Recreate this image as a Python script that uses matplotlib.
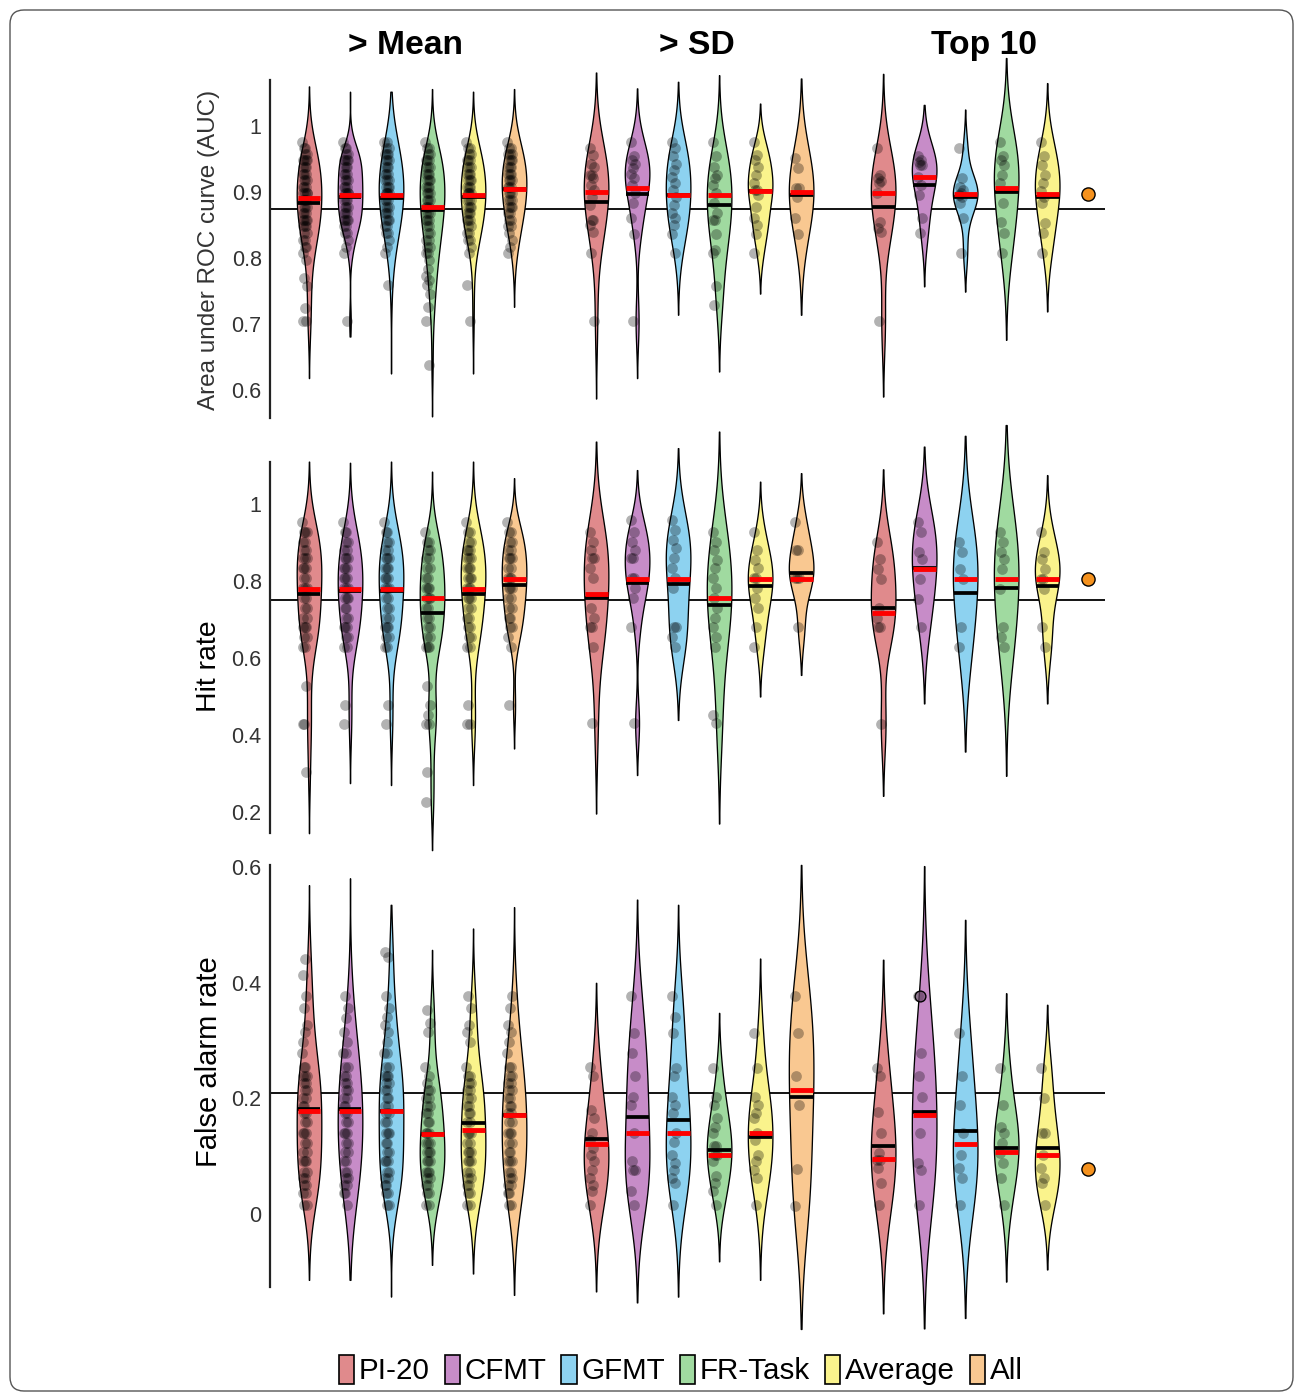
import numpy as np
import matplotlib
matplotlib.use('Agg')
import matplotlib.pyplot as plt
from matplotlib.patches import FancyBboxPatch, Patch
from matplotlib.transforms import IdentityTransform

plt.rcParams['font.family'] = ['Liberation Sans', 'DejaVu Sans']

# ---------------- data ----------------
tests = ['PI-20', 'CFMT', 'GFMT', 'FR-Task', 'Average', 'All']
groups = ['> Mean', '> SD', 'Top 10']
colors = ['#E08A8C', '#C78CC8', '#8DD2F0', '#A0DAA0', '#FAF38C', '#F9C891']

# AUC panel
auc_levels = [0.976, 0.966, 0.957, 0.948, 0.938, 0.928, 0.918, 0.908, 0.898, 0.888,
              0.878, 0.868, 0.858, 0.848, 0.838, 0.828, 0.817, 0.807, 0.797]
auc_mean_counts = [
    [1, 2, 2, 4, 3, 3, 3, 3, 4, 3, 3, 3, 4, 3, 2, 2, 2, 1, 1],
    [1, 2, 2, 4, 3, 3, 3, 3, 4, 3, 3, 3, 4, 2, 2, 1, 1, 1, 0],
    [2, 2, 3, 3, 3, 3, 3, 3, 4, 3, 3, 3, 3, 2, 2, 1, 1, 1, 0],
    [1, 2, 2, 3, 3, 3, 3, 3, 3, 3, 3, 3, 3, 2, 2, 2, 2, 2, 1],
    [1, 2, 2, 3, 3, 3, 3, 3, 4, 3, 3, 3, 3, 2, 2, 2, 1, 1, 0],
    [1, 2, 3, 3, 3, 3, 3, 3, 3, 3, 3, 2, 2, 2, 1, 1, 1, 1, 0],
]
auc_mean_extra = [[0.769, 0.757, 0.724, 0.704, 0.704], [0.704], [0.759],
                  [0.784, 0.772, 0.767, 0.759, 0.746, 0.726, 0.704, 0.638],
                  [0.759, 0.704], []]
auc_sd = [
    [0.966, 0.956, 0.943, 0.938, 0.926, 0.926, 0.921, 0.911, 0.903, 0.893, 0.880, 0.858, 0.858, 0.850, 0.840, 0.807, 0.704],
    [0.976, 0.954, 0.948, 0.943, 0.936, 0.928, 0.921, 0.911, 0.898, 0.883, 0.860, 0.837, 0.704],
    [0.976, 0.966, 0.954, 0.943, 0.933, 0.923, 0.913, 0.903, 0.893, 0.880, 0.868, 0.860, 0.850, 0.837, 0.807],
    [0.976, 0.954, 0.938, 0.926, 0.921, 0.911, 0.898, 0.883, 0.868, 0.858, 0.858, 0.837, 0.812, 0.807, 0.757, 0.729],
    [0.976, 0.956, 0.948, 0.938, 0.926, 0.913, 0.903, 0.903, 0.895, 0.878, 0.860, 0.850, 0.837, 0.807],
    [0.951, 0.936, 0.906, 0.906, 0.893, 0.860, 0.837],
]
auc_top10 = [
    [0.966, 0.926, 0.921, 0.916, 0.913, 0.898, 0.855, 0.845, 0.840, 0.704],
    [0.954, 0.949, 0.945, 0.941, 0.941, 0.923, 0.911, 0.896, 0.860, 0.838],
    [0.966, 0.921, 0.908, 0.903, 0.898, 0.896, 0.893, 0.883, 0.860, 0.807],
    [0.976, 0.954, 0.949, 0.941, 0.926, 0.913, 0.883, 0.855, 0.838, 0.807],
    [0.976, 0.954, 0.941, 0.926, 0.913, 0.901, 0.893, 0.883, 0.853, 0.838, 0.807],
]
# density support (lower, upper) of each violin, read from the tails
auc_support = [
    [(0.618, 1.060), (0.681, 1.052), (0.625, 1.052), (0.560, 1.056), (0.625, 1.052), (0.726, 1.056)],
    [(0.587, 1.081), (0.618, 1.057), (0.714, 1.067), (0.628, 1.077), (0.746, 1.034), (0.714, 1.072)],
    [(0.590, 1.079), (0.757, 1.032), (0.749, 1.025), (0.676, 1.103), (0.719, 1.065)],
]
auc_red = [[0.891, 0.895, 0.896, 0.878, 0.896, 0.904],
           [0.900, 0.906, 0.896, 0.896, 0.901, 0.900],
           [0.898, 0.922, 0.897, 0.906, 0.897]]
auc_black = [[0.883, 0.893, 0.891, 0.872, 0.892, 0.904],
             [0.885, 0.897, 0.896, 0.880, 0.901, 0.896],
             [0.877, 0.911, 0.893, 0.900, 0.893]]
auc_top10_all = 0.897
auc_ref = 0.874

# Hit rate panel
hit_levels = [0.954, 0.928, 0.902, 0.881, 0.859, 0.833, 0.807, 0.781, 0.755, 0.729,
              0.703, 0.681, 0.655, 0.629]
hit_mean_counts = [
    [1, 3, 2, 2, 3, 3, 2, 3, 2, 2, 2, 3, 2, 2],
    [1, 2, 2, 2, 3, 3, 3, 3, 3, 2, 2, 3, 2, 2],
    [1, 2, 2, 2, 3, 3, 3, 3, 2, 2, 2, 3, 2, 2],
    [0, 1, 2, 2, 2, 2, 2, 3, 3, 2, 2, 2, 2, 3],
    [1, 2, 2, 3, 3, 3, 3, 3, 3, 2, 2, 2, 2, 2],
    [1, 2, 2, 2, 3, 2, 3, 3, 2, 2, 2, 2, 1, 1],
]
hit_mean_extra = [[0.526, 0.429, 0.429, 0.305], [0.478, 0.429], [0.478, 0.429],
                  [0.526, 0.478, 0.452, 0.429, 0.429, 0.305, 0.227],
                  [0.478, 0.429, 0.429], [0.478]]
hit_sd = [
    [0.928, 0.902, 0.880, 0.859, 0.859, 0.833, 0.807, 0.729, 0.703, 0.681, 0.681, 0.629, 0.430],
    [0.958, 0.928, 0.902, 0.880, 0.859, 0.859, 0.807, 0.807, 0.781, 0.755, 0.681, 0.430],
    [0.958, 0.932, 0.906, 0.885, 0.859, 0.833, 0.807, 0.781, 0.681, 0.681, 0.655, 0.629],
    [0.928, 0.902, 0.880, 0.855, 0.833, 0.807, 0.781, 0.755, 0.729, 0.703, 0.681, 0.655, 0.629, 0.452, 0.430],
    [0.928, 0.880, 0.855, 0.833, 0.807, 0.807, 0.781, 0.755, 0.729, 0.681, 0.629],
    [0.954, 0.880, 0.880, 0.807, 0.807, 0.807, 0.681],
]
hit_top10 = [
    [0.902, 0.856, 0.830, 0.804, 0.729, 0.703, 0.680, 0.680, 0.429],
    [0.954, 0.928, 0.876, 0.856, 0.804, 0.752, 0.680],
    [0.902, 0.876, 0.830, 0.804, 0.680, 0.628],
    [0.928, 0.902, 0.876, 0.856, 0.830, 0.778, 0.680, 0.654, 0.628],
    [0.928, 0.876, 0.856, 0.830, 0.804, 0.804, 0.778, 0.680, 0.628],
]
hit_support = [
    [(0.145, 1.110), (0.275, 1.107), (0.270, 1.110), (0.101, 1.084), (0.270, 1.110), (0.365, 1.067)],
    [(0.196, 1.162), (0.296, 1.088), (0.439, 1.145), (0.170, 1.188), (0.500, 1.058), (0.556, 1.080)],
    [(0.242, 1.090), (0.482, 1.149), (0.357, 1.177), (0.294, 1.205), (0.482, 1.075)],
]
hit_red = [[0.778, 0.778, 0.778, 0.755, 0.778, 0.804],
           [0.766, 0.804, 0.804, 0.755, 0.804, 0.804],
           [0.718, 0.830, 0.804, 0.804, 0.804]]
hit_black = [[0.765, 0.775, 0.773, 0.718, 0.765, 0.790],
             [0.755, 0.796, 0.792, 0.738, 0.787, 0.822],
             [0.729, 0.835, 0.770, 0.781, 0.787]]
hit_top10_all = 0.804
hit_ref = 0.751

# False alarm panel
fa_levels = [0.278, 0.255, 0.238, 0.226, 0.215, 0.200, 0.186, 0.174, 0.160, 0.140,
             0.122, 0.108, 0.091, 0.073, 0.062, 0.050, 0.036, 0.016]
fa_mean_counts = [
    [1, 2, 3, 2, 2, 2, 2, 2, 2, 3, 2, 2, 3, 2, 2, 2, 2, 2],
    [2, 2, 2, 2, 2, 2, 2, 2, 2, 3, 2, 2, 2, 2, 2, 2, 2, 1],
    [2, 2, 3, 2, 2, 2, 2, 2, 2, 3, 2, 2, 3, 2, 2, 2, 2, 2],
    [0, 1, 1, 1, 2, 2, 2, 2, 2, 3, 3, 3, 3, 3, 2, 2, 2, 2],
    [0, 1, 2, 2, 2, 2, 2, 2, 2, 3, 2, 3, 3, 2, 2, 2, 2, 2],
    [1, 2, 2, 2, 2, 2, 2, 2, 2, 3, 2, 2, 3, 2, 2, 2, 2, 2],
]
fa_mean_extra = [[0.442, 0.413, 0.377, 0.356, 0.327, 0.315, 0.298],
                 [0.377, 0.356, 0.339, 0.315, 0.298],
                 [0.454, 0.445, 0.377, 0.356, 0.341, 0.327, 0.315, 0.298],
                 [0.353, 0.330, 0.315],
                 [0.377, 0.356, 0.327, 0.315, 0.298],
                 [0.377, 0.356, 0.327, 0.315, 0.298]]
fa_sd = [
    [0.255, 0.238, 0.180, 0.166, 0.140, 0.128, 0.114, 0.102, 0.091, 0.076, 0.062, 0.050, 0.039, 0.016],
    [0.377, 0.314, 0.278, 0.239, 0.203, 0.189, 0.140, 0.091, 0.076, 0.076, 0.039, 0.016],
    [0.377, 0.341, 0.314, 0.252, 0.239, 0.203, 0.189, 0.174, 0.140, 0.125, 0.102, 0.088, 0.076, 0.062, 0.053, 0.016],
    [0.252, 0.203, 0.189, 0.166, 0.151, 0.140, 0.117, 0.117, 0.102, 0.102, 0.091, 0.065, 0.053, 0.039, 0.016],
    [0.314, 0.252, 0.203, 0.189, 0.174, 0.166, 0.140, 0.128, 0.102, 0.091, 0.076, 0.062, 0.016],
    [0.377, 0.314, 0.239, 0.189, 0.077, 0.014],
]
fa_top10 = [
    [0.252, 0.238, 0.177, 0.140, 0.105, 0.093, 0.093, 0.079, 0.053, 0.016],
    [0.377, 0.278, 0.238, 0.203, 0.140, 0.088, 0.076, 0.016],
    [0.314, 0.238, 0.189, 0.140, 0.102, 0.079, 0.062, 0.016],
    [0.252, 0.189, 0.151, 0.140, 0.122, 0.105, 0.088, 0.062, 0.016],
    [0.252, 0.200, 0.140, 0.140, 0.102, 0.079, 0.062, 0.053, 0.016],
]
fa_support = [
    [(-0.114, 0.569), (-0.114, 0.581), (-0.143, 0.535), (-0.088, 0.457), (-0.103, 0.494), (-0.140, 0.531)],
    [(-0.134, 0.400), (-0.153, 0.544), (-0.143, 0.535), (-0.082, 0.348), (-0.114, 0.442), (-0.199, 0.604)],
    [(-0.172, 0.440), (-0.198, 0.602), (-0.180, 0.509), (-0.117, 0.382), (-0.096, 0.362)],
]
fa_red = [[0.178, 0.178, 0.178, 0.138, 0.146, 0.171],
          [0.121, 0.140, 0.140, 0.102, 0.140, 0.215],
          [0.095, 0.171, 0.121, 0.108, 0.102]]
fa_black = [[0.182, 0.182, 0.178, 0.138, 0.158, 0.171],
            [0.130, 0.168, 0.163, 0.110, 0.134, 0.202],
            [0.117, 0.177, 0.143, 0.114, 0.115]]
fa_top10_all = 0.077
fa_ref = 0.21
fa_highlight = 0.377  # outlined point, Top 10 / CFMT

# ---------------- figure ----------------
W, H = 1295, 1393
fig = plt.figure(figsize=(W / 100, H / 100), dpi=100)

group_offsets = [0, 7, 14]


def ax_rect(top_px, bot_px, left_px=270, right_px=1105):
    return [left_px / W, 1 - bot_px / H, (right_px - left_px) / W, (bot_px - top_px) / H]


def draw_violin(ax, pos, vals, support, color):
    v = np.asarray(vals, float)
    n = v.size
    lo, hi = support
    bw = ((v.min() - lo) + (hi - v.max())) / 4.6
    if bw <= 0:
        bw = 0.02
    y = np.linspace(lo, hi, 400)
    d = np.exp(-0.5 * ((y[:, None] - v[None, :]) / bw) ** 2).sum(1)
    d = d / d.max() * 0.3
    ax.fill_betweenx(y, pos - d, pos + d, facecolor=color, edgecolor='black',
                     lw=0.95, zorder=2, clip_on=False)
    k = np.arange(n)
    jit = ((k * 0.6180339) % 1.0 - 0.5) * 0.12
    ax.scatter(pos - 0.1 + jit, v, s=60, color='black', alpha=0.3, lw=0,
               zorder=3, clip_on=False)


def draw_lines(ax, pos, red, black):
    ax.plot([pos - 0.28, pos + 0.28], [black, black], color='black', lw=2.7,
            solid_capstyle='butt', zorder=4, clip_on=False)
    ax.plot([pos - 0.28, pos + 0.28], [red, red], color='#FF0000', lw=3.5,
            solid_capstyle='butt', zorder=5, clip_on=False)


def panel(rect, ylim, ticks, ticklabels, levels, mean_counts, mean_extra,
          sd, top10, support, red, black, all_dot, ref):
    ax = fig.add_axes(rect)
    ax.set_xlim(-0.951, 19.41)
    ax.set_ylim(*ylim)
    ax.axhline(ref, color='black', lw=1.3, zorder=1)
    # > Mean group
    for i in range(6):
        vals = list(np.repeat(levels, mean_counts[i])) + list(mean_extra[i])
        pos = group_offsets[0] + i
        draw_violin(ax, pos, vals, support[0][i], colors[i])
        draw_lines(ax, pos, red[0][i], black[0][i])
    # > SD group
    for i in range(6):
        pos = group_offsets[1] + i
        draw_violin(ax, pos, sd[i], support[1][i], colors[i])
        draw_lines(ax, pos, red[1][i], black[1][i])
    # Top 10 group
    for i in range(5):
        pos = group_offsets[2] + i
        draw_violin(ax, pos, top10[i], support[2][i], colors[i])
        draw_lines(ax, pos, red[2][i], black[2][i])
    ax.scatter([group_offsets[2] + 5], [all_dot], s=90, color='#F5921E',
               edgecolor='black', lw=1.0, zorder=6, clip_on=False)
    for s in ['top', 'right', 'bottom']:
        ax.spines[s].set_visible(False)
    ax.spines['left'].set_linewidth(1.6)
    ax.spines['left'].set_color('#222222')
    ax.set_xticks([])
    ax.set_yticks(ticks)
    ax.set_yticklabels(ticklabels)
    ax.tick_params(axis='y', length=0, pad=6, labelsize=15.5, labelcolor='#333333')
    ax.patch.set_visible(False)
    return ax


ax1 = panel(ax_rect(79.8, 417.7), (0.558, 1.07), [0.6, 0.7, 0.8, 0.9, 1.0],
            ['0.6', '0.7', '0.8', '0.9', '1'], auc_levels, auc_mean_counts,
            auc_mean_extra, auc_sd, auc_top10, auc_support, auc_red, auc_black,
            auc_top10_all, auc_ref)
ax2 = panel(ax_rect(462.0, 833.2), (0.145, 1.109), [0.2, 0.4, 0.6, 0.8, 1.0],
            ['0.2', '0.4', '0.6', '0.8', '1'], hit_levels, hit_mean_counts,
            hit_mean_extra, hit_sd, hit_top10, hit_support, hit_red, hit_black,
            hit_top10_all, hit_ref)
ax3 = panel(ax_rect(865.5, 1286.8), (-0.126, 0.603), [0.0, 0.2, 0.4, 0.6],
            ['0', '0.2', '0.4', '0.6'], fa_levels, fa_mean_counts,
            fa_mean_extra, fa_sd, fa_top10, fa_support, fa_red, fa_black,
            fa_top10_all, fa_ref)
# highlighted point
ax3.scatter([group_offsets[2] + 1 - 0.1], [fa_highlight], s=60, facecolor=(0.45, 0.3, 0.45, 0.6),
            edgecolor='black', lw=1.0, zorder=6, clip_on=False)

# y labels
fig.text(209 / W, 1 - 250 / H, 'Area under ROC curve (AUC)', rotation=90,
         ha='center', va='center', fontsize=17.5, color='#333333')
fig.text(209 / W, 1 - 666 / H, 'Hit rate', rotation=90,
         ha='center', va='center', fontsize=20.5, color='black')
fig.text(209 / W, 1 - 1062 / H, 'False alarm rate', rotation=90,
         ha='center', va='center', fontsize=21, color='black')

# group titles
for gx, g in zip([405, 697, 984], groups):
    fig.text(gx / W, 1 - 54 / H, g, ha='center', va='baseline', fontsize=24.2,
             fontweight='bold', color='black')

# legend
handles = [Patch(facecolor=c, edgecolor='black', lw=1.2) for c in colors]
fig.legend(handles, tests, loc='center', bbox_to_anchor=(681 / W, 1 - 1370 / H),
           ncol=6, frameon=False, handlelength=0.51, handleheight=1.15,
           handletextpad=0.17, columnspacing=0.5,
           prop={'family': ['Liberation Sans'], 'size': 21.3})

# rounded frame
frame = FancyBboxPatch((10, 2), 1283, 1381, boxstyle='round,pad=0,rounding_size=14',
                       transform=IdentityTransform(), facecolor='none',
                       edgecolor='#555555', lw=1.0)
fig.patches.append(frame)

fig.savefig('out.png', dpi=100)
